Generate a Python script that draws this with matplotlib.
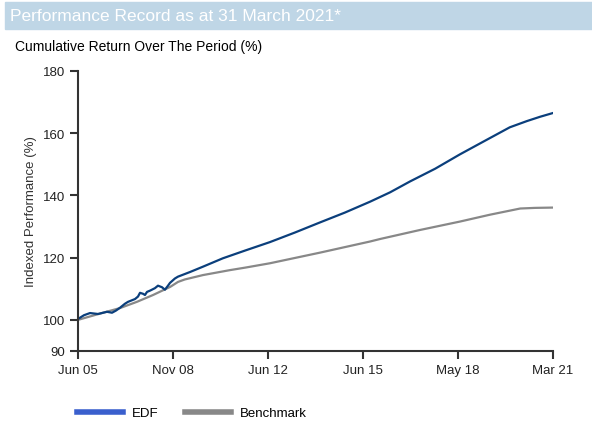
import matplotlib.pyplot as plt
from matplotlib.lines import Line2D
from matplotlib.patches import Rectangle

plt.rcParams['font.family'] = ['Liberation Sans', 'DejaVu Sans']

# position along the period (0 = Jun 05, 100 = Mar 21)
edf_x = [0, 1.26, 2.53, 4.21, 6.11, 7.16, 8.0, 8.84, 9.89, 10.53, 12.0, 12.63, 13.05,
         13.68, 14.1, 14.53, 15.16, 16.2, 16.84, 17.68, 18.3, 18.95, 19.37, 20.4, 21.05,
         23.6, 26.3, 30.5, 35.2, 40.4, 45.7, 50.9, 56.2, 61.5, 65.7, 69.9, 75.2, 80.4,
         85.7, 90.9, 94.5, 97.3, 100]
edf_y = [100.3, 101.5, 102.2, 101.9, 102.6, 102.3, 103.0, 103.9, 105.2, 105.8, 106.7,
         107.5, 108.7, 108.4, 108.0, 109.0, 109.4, 110.2, 111.0, 110.5, 109.7, 111.0,
         111.9, 113.3, 113.9, 115.4, 117.1, 119.8, 122.3, 125.0, 128.1, 131.3, 134.5,
         138.0, 141.0, 144.5, 148.6, 153.2, 157.6, 161.9, 163.9, 165.3, 166.5]

bm_x = [0, 5.26, 8.84, 12.4, 15.8, 19.4, 21.05, 22.5, 26.3, 32.0, 35.2, 40.4, 50.9,
        61.5, 63.6, 72.0, 80.4, 86.7, 93.1, 96.2, 100]
bm_y = [100.0, 102.3, 103.8, 105.8, 108.0, 110.6, 112.2, 113.0, 114.4, 116.0, 116.8,
        118.2, 121.6, 125.2, 126.0, 128.9, 131.6, 133.8, 135.8, 136.0, 136.1]

tick_pos = [0, 20, 40, 60, 80, 100]
tick_labels = ['Jun 05', 'Nov 08', 'Jun 12', 'Jun 15', 'May 18', 'Mar 21']
y_ticks = [90, 100, 120, 140, 160, 180]

fig = plt.figure(figsize=(5.92, 4.27), dpi=100)

# title banner
fig.patches.append(Rectangle((5 / 592, 1 - 30 / 427), 587 / 592, 27 / 427,
                             transform=fig.transFigure, color='#bfd6e6', zorder=0))
fig.text(10 / 592, 1 - 16.5 / 427, 'Performance Record as at 31 March 2021*',
         color='white', fontsize=12.5, va='center', ha='left')
fig.text(15 / 592, 1 - 47 / 427, 'Cumulative Return Over The Period (%)',
         color='black', fontsize=10, va='center', ha='left')

ax = fig.add_axes([78 / 592, 1 - 352 / 427, 475 / 592, 280 / 427])
ax.plot(bm_x, bm_y, color='#888888', lw=1.6)
ax.plot(edf_x, edf_y, color='#0b3f7c', lw=1.6)

ax.set_xlim(0, 100)
ax.set_ylim(90, 180)
ax.set_xticks(tick_pos)
ax.set_xticklabels(tick_labels)
ax.set_yticks(y_ticks)
ax.tick_params(axis='both', direction='out', length=6, width=1.5, color='#333333',
               labelsize=9.5, labelcolor='#222222')
for side in ['top', 'right']:
    ax.spines[side].set_visible(False)
for side in ['left', 'bottom']:
    ax.spines[side].set_color('#333333')
    ax.spines[side].set_linewidth(1.5)
ax.set_ylabel('Indexed Performance (%)', fontsize=9.5, color='#333333', labelpad=4)

handles = [Line2D([], [], color='#3a5fcd', lw=4),
           Line2D([], [], color='#888888', lw=4)]
fig.legend(handles, ['EDF', 'Benchmark'], loc='center left',
           bbox_to_anchor=(65 / 592, 1 - 414 / 427), ncol=2, frameon=False,
           fontsize=9.5, handlelength=3.5, columnspacing=1.95, handletextpad=0.7)

fig.savefig('out.png', dpi=100)
